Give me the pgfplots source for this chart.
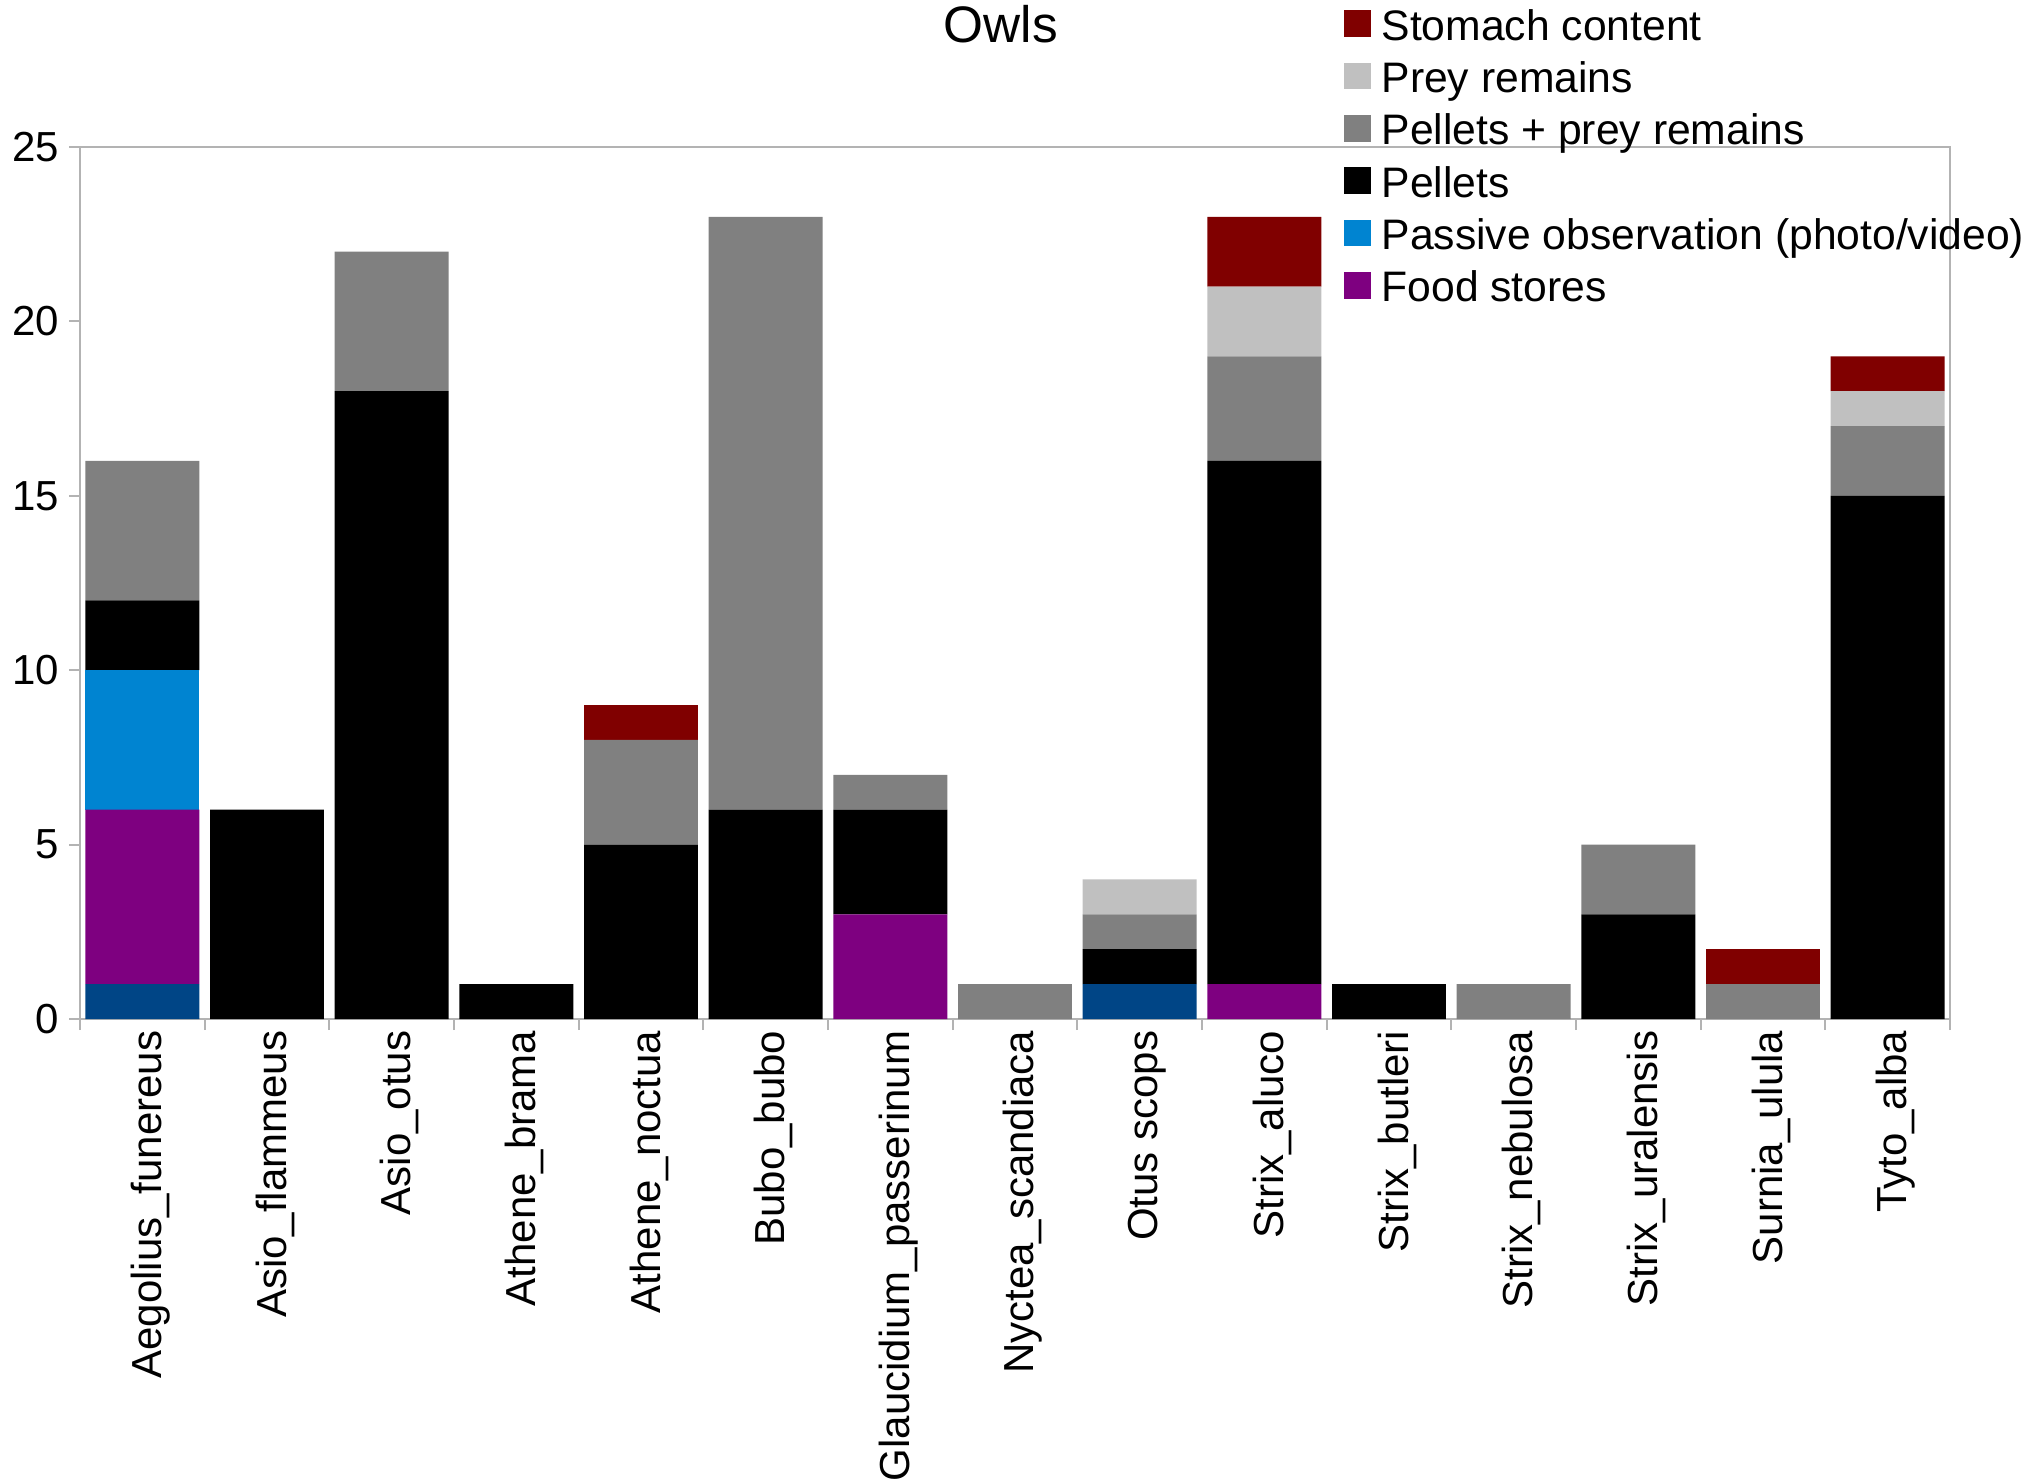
\documentclass[border=0pt]{standalone}
\usepackage{fontspec}
\setmainfont{Liberation Sans}
\usepackage{pgfplots}
\usepackage{pgfplotstable}
\pgfplotsset{compat=1.18}

\definecolor{cDarkBlue}{HTML}{004586}
\definecolor{cFood}{HTML}{7E0080}
\definecolor{cPassive}{HTML}{0084D1}
\definecolor{cPellets}{HTML}{000000}
\definecolor{cPelPrey}{HTML}{808080}
\definecolor{cPrey}{HTML}{C0C0C0}
\definecolor{cStomach}{HTML}{800000}
\definecolor{cFrame}{HTML}{B3B3B3}

% idx: species order along the x axis
\pgfplotstableread{
idx other food passive pellets pelprey prey stomach
0   1     5    4       2       4       0    0
1   0     0    0       6       0       0    0
2   0     0    0       18      4       0    0
3   0     0    0       1       0       0    0
4   0     0    0       5       3       0    1
5   0     0    0       6       17      0    0
6   0     3    0       3       1       0    0
7   0     0    0       0       1       0    0
8   1     0    0       1       1       1    0
9   0     1    0       15      3       2    2
10  0     0    0       1       0       0    0
11  0     0    0       0       1       0    0
12  0     0    0       3       2       0    0
13  0     0    0       0       1       0    1
14  0     0    0       15      2       1    1
}\owls

\begin{document}
\fontsize{12.6}{15}\selectfont
\begin{tikzpicture}
\useasboundingbox (0pt,0pt) rectangle (610.5pt,444.6pt);
\begin{axis}[
  at={(24pt,138.9pt)}, anchor=south west,
  scale only axis, width=561pt, height=261.6pt,
  ybar stacked, bar width=0.914,
  xmin=-0.5, xmax=14.5, ymin=0, ymax=25,
  axis line style={cFrame},
  xtick={0,...,14},
  xticklabels={Aegolius\_funereus,Asio\_flammeus,Asio\_otus,Athene\_brama,Athene\_noctua,Bubo\_bubo,Glaucidium\_passerinum,Nyctea\_scandiaca,Otus scops,Strix\_aluco,Strix\_butleri,Strix\_nebulosa,Strix\_uralensis,Surnia\_ulula,Tyto\_alba},
  minor xtick={-0.5,0.5,...,14.5},
  ytick={0,5,...,25},
  xtick pos=bottom, ytick pos=left,
  tick align=outside,
  major x tick style={draw=none},
  major tick length=3.3pt, minor tick length=3.3pt,
  tick style={cFrame, line width=0.6pt},
  x tick label style={rotate=90, anchor=east, inner sep=0pt, yshift=-2.4pt},
  y tick label style={inner sep=0pt, xshift=-2.7pt},
  /pgf/number format/assume math mode=true,
  tick label style={font=\fontsize{12.6}{15}\selectfont},
  reverse legend,
  legend cell align=left,
  legend style={at={(rel axis cs:0.6755,1.1655)}, anchor=north west,
    draw=none, fill=none, inner sep=0pt, row sep=0pt,
    font=\fontsize{12.8}{15}\selectfont,
    nodes={inner sep=0pt, text height=11pt, text depth=4.7pt},
    column sep=3.3pt},
  legend image code/.code={\fill[#1] (0pt,-2.2pt) rectangle (8pt,5.8pt);},
  every axis plot/.append style={draw=none},
]
\addplot[fill=cDarkBlue, forget plot] table[x=idx, y=other] {\owls};
\addplot[fill=cFood] table[x=idx, y=food] {\owls};
\addlegendentry{Food stores}
\addplot[fill=cPassive] table[x=idx, y=passive] {\owls};
\addlegendentry{Passive observation (photo/video)}
\addplot[fill=cPellets] table[x=idx, y=pellets] {\owls};
\addlegendentry{Pellets}
\addplot[fill=cPelPrey] table[x=idx, y=pelprey] {\owls};
\addlegendentry{Pellets + prey remains}
\addplot[fill=cPrey] table[x=idx, y=prey] {\owls};
\addlegendentry{Prey remains}
\addplot[fill=cStomach] table[x=idx, y=stomach] {\owls};
\addlegendentry{Stomach content}
\end{axis}
\node[anchor=base, inner sep=0pt, font=\fontsize{15.4}{18}\selectfont] at (300.3pt,431.7pt) {Owls};
\end{tikzpicture}
\end{document}
